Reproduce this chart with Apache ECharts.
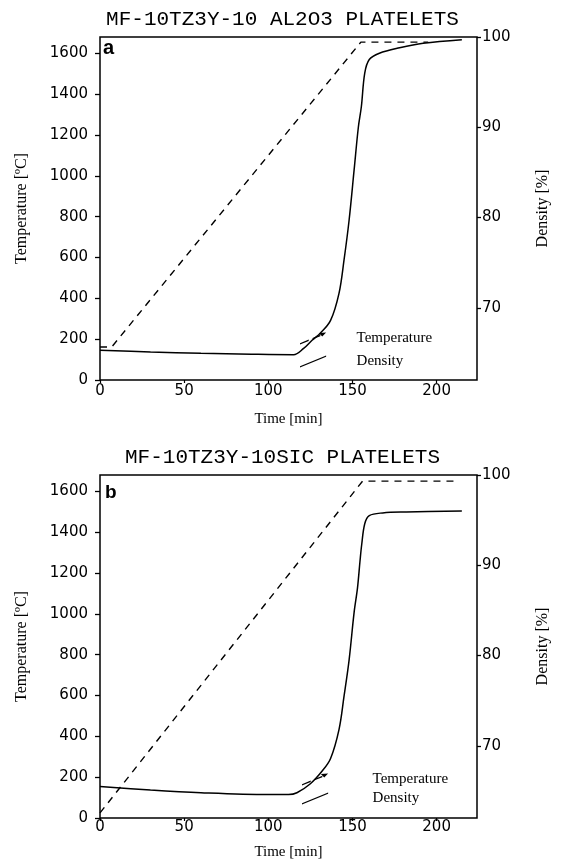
<!DOCTYPE html>
<html>
<head>
<meta charset="utf-8">
<script src="https://cdn.jsdelivr.net/npm/echarts@6/dist/echarts.min.js"></script>
<style>
html,body{margin:0;padding:0;background:#fff;}
#chart{width:565px;height:861px;}
</style>
</head>
<body>
<div id="chart"></div>
<script>
// ---- data ----
const titleA = 'MF-10TZ3Y-10 AL2O3 PLATELETS';
const titleB = 'MF-10TZ3Y-10SIC PLATELETS';
const panelA = 'a';
const panelB = 'b';
const timeTicks = [0, 50, 100, 150, 200];
const tempTicks = [0, 200, 400, 600, 800, 1000, 1200, 1400, 1600];
const densTicks = [70, 80, 90, 100];
const seriesNames = ['Temperature', 'Density'];

// panel a
const timeTempA = [0, 7, 155, 195];
const tempA     = [162, 162, 1655, 1655];
const timeDensA = [0, 30, 60, 90, 115, 121, 126, 131, 137, 142, 145, 148, 151, 153.5, 155.3, 157.3, 160, 166, 178, 192, 215];
const densA     = [65.3, 65.1, 64.95, 64.85, 64.8, 65.5, 66.4, 67.2, 68.6, 71.6, 75.3, 79.7, 85.3, 90.0, 92.3, 96.0, 97.5, 98.2, 98.8, 99.3, 99.7];

// panel b
const timeTempB = [0, 156, 212];
const tempB     = [25, 1650, 1650];
const timeDensB = [0, 30, 60, 100, 112, 117, 125, 132, 137, 142, 145, 148, 151, 153, 154.5, 155.5, 157.3, 160, 168, 182, 215];
const densB     = [65.5, 65.1, 64.8, 64.6, 64.6, 64.8, 65.8, 67.2, 68.6, 71.8, 75.5, 79.5, 84.8, 87.5, 90.5, 92.3, 94.6, 95.5, 95.8, 95.9, 96.0];

// ---- helpers ----
const pairs = (xs, ys) => xs.map((x, i) => [x, ys[i]]);
const plain = v => String(v);
const tickFont = {fontFamily: 'DejaVu Sans', fontSize: 15, color: '#000'};
const serif = {fontFamily: 'Liberation Serif', fontSize: 15, color: '#000'};
const serifName = {fontFamily: 'Liberation Serif', fontSize: 16, color: '#000'};
const axisLine = {show: false};

function xAxis(gridIndex, labelMargin, nameGap) {
  return {
    type: 'value', gridIndex, min: 0, max: 224,
    name: 'Time [min]', nameLocation: 'middle', nameGap,
    nameTextStyle: serif,
    axisLine,
    splitLine: {show: false},
    axisTick: {show: true, length: 3, customValues: timeTicks, lineStyle: {color: '#000', width: 1.2}},
    axisLabel: {customValues: timeTicks, margin: labelMargin, formatter: plain, ...tickFont}
  };
}
function tempAxis(gridIndex) {
  return {
    type: 'value', gridIndex, min: 0, max: 1680, position: 'left',
    name: 'Temperature [ºC]', nameLocation: 'middle', nameGap: 70,
    nameTextStyle: serifName,
    axisLine,
    splitLine: {show: false},
    axisTick: {show: true, length: 5, customValues: tempTicks, lineStyle: {color: '#000', width: 1.3}},
    axisLabel: {customValues: tempTicks, margin: 12, formatter: plain, ...tickFont}
  };
}
function densAxis(gridIndex) {
  return {
    type: 'value', gridIndex, min: 62, max: 100, position: 'right',
    name: 'Density [%]', nameLocation: 'middle', nameGap: 58,
    nameTextStyle: serifName,
    axisLine,
    splitLine: {show: false},
    axisTick: {show: true, length: 4, customValues: densTicks, lineStyle: {color: '#000', width: 1.3}},
    axisLabel: {customValues: densTicks, margin: 5, formatter: plain, ...tickFont}
  };
}
const dashedStyle = {color: '#000', width: 1.4, type: [7, 6]};
const solidStyle = {color: '#000', width: 1.5};
function line(name, data, xi, yi, style, smooth) {
  return {
    name, type: 'line', data, xAxisIndex: xi, yAxisIndex: yi,
    showSymbol: false, symbol: 'none', color: '#000',
    lineStyle: style, smooth: smooth,
    silent: true
  };
}
const iconTemp = 'path://M0,12L9,8.3L9,9.7L0,13.4Z M13,6.7L21,3.4L21,4.8L13,8.1Z M27,1 L19.5,1.6 L23,5.2 Z';
const iconDens = 'path://M0,12L27,1L27,2.4L0,13.4Z';
function legend(left, top, gap, pad) {
  return {
    data: [{name: seriesNames[0], icon: iconTemp}, {name: seriesNames[1], icon: iconDens}],
    orient: 'vertical', left, top, itemGap: gap, itemWidth: 27, itemHeight: 12,
    selectedMode: false,
    itemStyle: {color: '#000', borderWidth: 0},
    textStyle: {...serif, padding: [0, 0, 0, pad]}
  };
}

const chart = echarts.init(document.getElementById('chart'), null, {renderer: 'canvas'});
chart.setOption({
  animation: false,
  backgroundColor: '#fff',
  title: [
    {text: titleA, left: 'center', top: 4, textStyle: {fontFamily: 'Liberation Mono', fontSize: 21, fontWeight: 'normal', color: '#000'}},
    {text: titleB, left: 'center', top: 442, textStyle: {fontFamily: 'Liberation Mono', fontSize: 21, fontWeight: 'normal', color: '#000'}},
    {text: panelA, left: 103, top: 38, padding: 0, textStyle: {fontFamily: 'Liberation Sans', fontSize: 20, fontWeight: 'bold', color: '#000'}},
    {text: panelB, left: 105, top: 483, padding: 0, textStyle: {fontFamily: 'Liberation Sans', fontSize: 19, fontWeight: 'bold', color: '#000'}}
  ],
  legend: [legend(295, 326, 8, 25), legend(297, 767, 4, 39)],
  grid: [
    {left: 100, right: 88, top: 37, height: 343, show: true, borderColor: '#000', borderWidth: 1.5, backgroundColor: 'transparent'},
    {left: 100, right: 88, top: 475, height: 343, show: true, borderColor: '#000', borderWidth: 1.5, backgroundColor: 'transparent'}
  ],
  xAxis: [xAxis(0, 4, 32), xAxis(1, 2, 27)],
  yAxis: [tempAxis(0), densAxis(0), tempAxis(1), densAxis(1)],
  series: [
    line(seriesNames[0], pairs(timeTempA, tempA), 0, 0, dashedStyle, false),
    line(seriesNames[1], pairs(timeDensA, densA), 0, 1, solidStyle, 0.35),
    line(seriesNames[0], pairs(timeTempB, tempB), 1, 2, dashedStyle, false),
    line(seriesNames[1], pairs(timeDensB, densB), 1, 3, solidStyle, 0.35)
  ]
});
</script>
</body>
</html>
